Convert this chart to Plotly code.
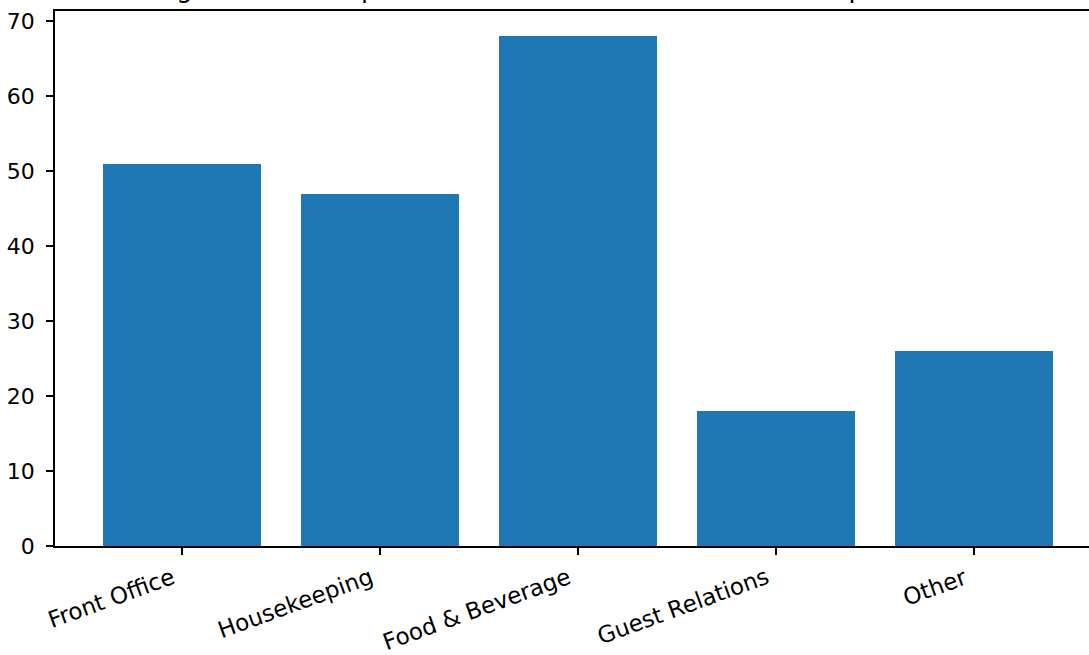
import plotly.graph_objects as go

# Complaint counts per department
departments = ["Front Office", "Housekeeping", "Food & Beverage", "Guest Relations", "Other"]
complaints = [51, 47, 68, 18, 26]
y_ticks = [0, 10, 20, 30, 40, 50, 60, 70]

title_text = "Average Guest Complaints Handled Within Each Hotel Department"

FONT = "DejaVu Sans"
BAR_COLOR = "#1f77b4"

fig = go.Figure(
    go.Bar(
        x=departments,
        y=complaints,
        width=0.8,
        marker=dict(color=BAR_COLOR, line=dict(width=0)),
    )
)

fig.update_layout(
    width=1089,
    height=655,
    margin=dict(l=55, r=0, t=11, b=109),
    paper_bgcolor="white",
    plot_bgcolor="white",
    showlegend=False,
    font=dict(family=FONT, color="black"),
    bargap=0,
)

fig.update_xaxes(
    type="category",
    range=[-0.64, 4.58],
    showline=True,
    linecolor="black",
    linewidth=1.6,
    mirror=True,
    ticks="outside",
    ticklen=7,
    tickwidth=1.6,
    tickcolor="black",
    showticklabels=False,
    showgrid=False,
    zeroline=False,
)

fig.update_yaxes(
    range=[0, 71.4],
    tickvals=y_ticks,
    showline=True,
    linecolor="black",
    linewidth=1.6,
    ticks="outside",
    ticklen=7,
    tickwidth=1.6,
    tickcolor="black",
    ticklabelstandoff=7,
    tickfont=dict(family=FONT, size=22, color="black"),
    showgrid=False,
    zeroline=False,
)

# Rotated category labels, right-aligned under each tick
for name in departments:
    fig.add_annotation(
        text=name,
        x=name,
        y=0,
        xref="x",
        yref="y",
        xanchor="right",
        yanchor="top",
        textangle=-20,
        yshift=-16,
        xshift=-2,
        showarrow=False,
        borderpad=0,
        font=dict(family=FONT, size=23, color="black"),
    )

# Title sits above the top edge of the page
fig.add_annotation(
    text=title_text,
    xref="paper",
    yref="paper",
    x=0.465,
    y=1,
    xanchor="center",
    yanchor="bottom",
    yshift=6,
    showarrow=False,
    font=dict(family=FONT, size=26, color="black"),
)

fig.write_html("out.html")
